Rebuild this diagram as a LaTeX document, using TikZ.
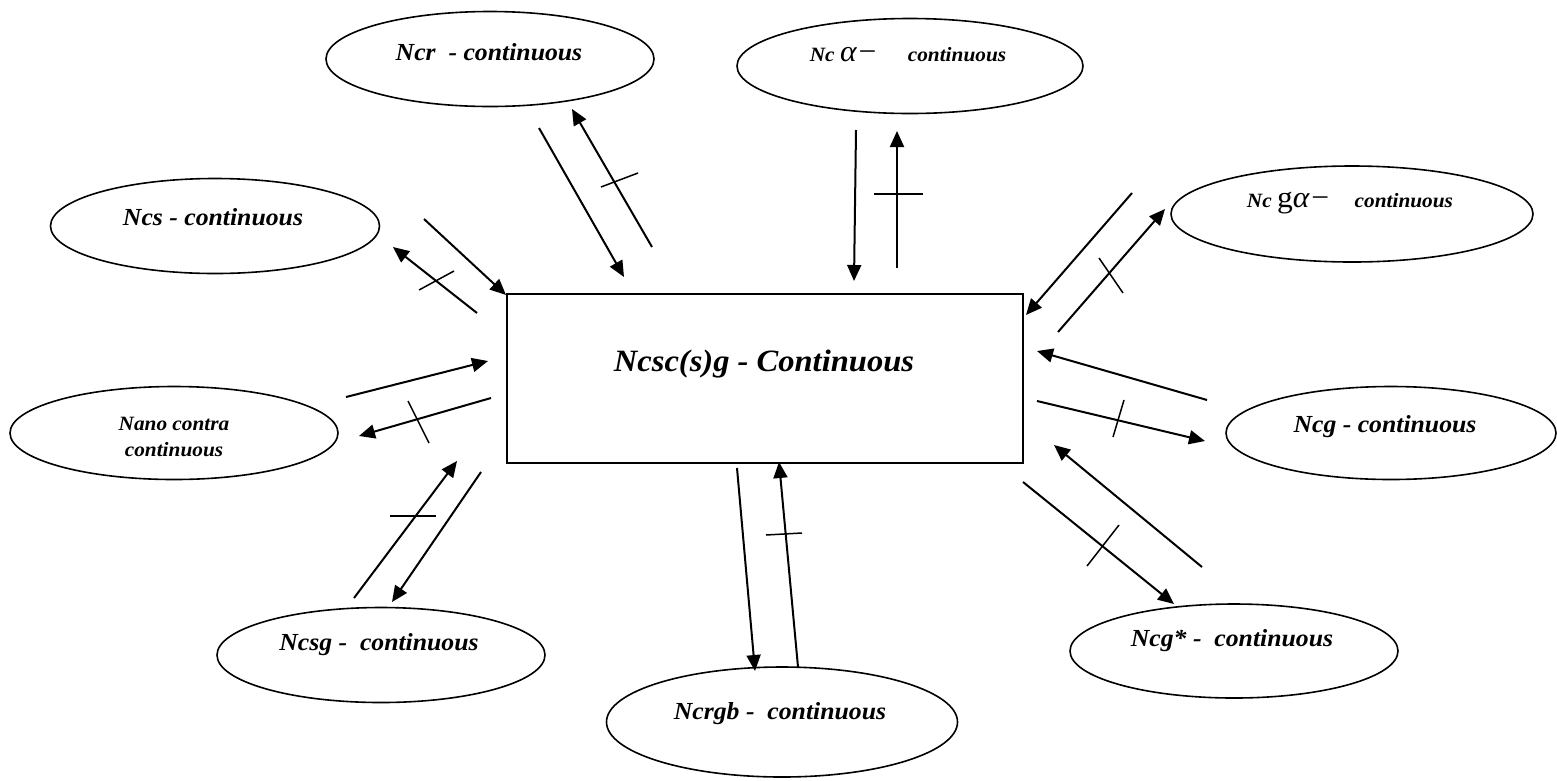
\documentclass[tikz,border=0pt]{standalone}
\usepackage{fontspec}
\setmainfont{Liberation Serif}
\newfontfamily\lblfont[FakeStretch=1.05]{Liberation Serif}
\usetikzlibrary{shapes.geometric,arrows.meta}
\begin{document}
\begin{tikzpicture}[x=1pt,y=-1pt,
  ell/.style={draw, ellipse, line width=1.6pt, inner sep=0pt},
  box/.style={draw, rectangle, line width=1.8pt, inner sep=0pt},
  lab/.style={inner sep=0pt, align=center, font=\lblfont\bfseries\itshape\fontsize{24.5}{27}\selectfont},
  smalllab/.style={inner sep=0pt, align=center, font=\lblfont\bfseries\itshape\fontsize{20.3}{26}\selectfont},
  biglab/.style={inner sep=0pt, font=\lblfont\bfseries\itshape\fontsize{31}{36}\selectfont},
  conn/.style={line width=2pt, -{Triangle[length=16pt,width=14pt]}},
  tick/.style={line width=1.5pt}]
\useasboundingbox (0,0) rectangle (1557,780);

% central box
\node[box, minimum width=516pt, minimum height=169pt] (main) at (765,378.5) {};
\node[biglab] (mainT) at (764,364) {Ncsc(s)g - Continuous};

% ellipses
\node[ell, minimum width=328pt, minimum height=95pt] (ncr) at (490,59) {};
\node[lab] (ncrT) at (489,52) {Ncr\ \ - continuous};

\node[ell, minimum width=346pt, minimum height=95pt] (nca) at (910,66) {};
\node[smalllab] (ncaT) at (908,55) {Nc {\mdseries\fontsize{30}{34}\selectfont α−}\hspace{30pt}continuous};

\node[ell, minimum width=329pt, minimum height=95pt] (ncs) at (215,226) {};
\node[lab] (ncsT) at (213,217) {Ncs - continuous};

\node[ell, minimum width=362pt, minimum height=96pt] (ncga) at (1352,214) {};
\node[smalllab] (ncgaT) at (1350,203) {Nc {\mdseries\fontsize{30}{34}\selectfont\upshape g\itshape α−}\hspace{24pt}continuous};

\node[ell, minimum width=328pt, minimum height=93pt] (nano) at (174,433) {};
\node[smalllab] (nanoT) at (174,437) {Nano contra\\continuous};

\node[ell, minimum width=330pt, minimum height=93pt] (ncg) at (1391,433) {};
\node[lab] (ncgT) at (1385,427) {Ncg - continuous};

\node[ell, minimum width=328pt, minimum height=95pt] (ncsg) at (381,655) {};
\node[lab] (ncsgT) at (379,645) {Ncsg -\ \ continuous};

\node[ell, minimum width=351pt, minimum height=110pt] (ncrgb) at (782,722) {};
\node[lab] (ncrgbT) at (780,714) {Ncrgb -\ \ continuous};

\node[ell, minimum width=328pt, minimum height=94pt] (ncgs) at (1234,651) {};
\node[lab] (ncgsT) at (1232,641) {Ncg* -\ \ continuous};

% connector end points
\coordinate (r1a) at (539,128); \coordinate (r1b) at (624,277);
\coordinate (r2a) at (652,247); \coordinate (r2b) at (572,109);
\coordinate (r3a) at (601,187); \coordinate (r3b) at (638,173);

\coordinate (s1a) at (424,219); \coordinate (s1b) at (506,295);
\coordinate (s2a) at (477,313); \coordinate (s2b) at (393,247);
\coordinate (s3a) at (419,290); \coordinate (s3b) at (454,271);

\coordinate (a1a) at (856,130); \coordinate (a1b) at (854,281);
\coordinate (a2a) at (897,268); \coordinate (a2b) at (897,131);
\coordinate (a3a) at (874,194); \coordinate (a3b) at (923,194);

\coordinate (ga1a) at (1132,193); \coordinate (ga1b) at (1026,315);
\coordinate (ga2a) at (1058,332); \coordinate (ga2b) at (1165,209);
\coordinate (ga3a) at (1099,258); \coordinate (ga3b) at (1123,293);

\coordinate (g1a) at (1207,400); \coordinate (g1b) at (1037,351);
\coordinate (g2a) at (1037,401); \coordinate (g2b) at (1205,441);
\coordinate (g3a) at (1113,437); \coordinate (g3b) at (1124,400);

\coordinate (n1a) at (346,397); \coordinate (n1b) at (488,361);
\coordinate (n2a) at (491,398); \coordinate (n2b) at (359,436);
\coordinate (n3a) at (408,401); \coordinate (n3b) at (429,443);

\coordinate (sg1a) at (354,598); \coordinate (sg1b) at (457,461);
\coordinate (sg2a) at (481,472); \coordinate (sg2b) at (392,602);
\coordinate (sg3a) at (390,516); \coordinate (sg3b) at (436,516);

\coordinate (rb1a) at (737,468); \coordinate (rb1b) at (755,671);
\coordinate (rb2a) at (798,667); \coordinate (rb2b) at (779,462);
\coordinate (rb3a) at (766,535); \coordinate (rb3b) at (802,533);

\coordinate (gs1a) at (1202,567); \coordinate (gs1b) at (1054,445);
\coordinate (gs2a) at (1023,482); \coordinate (gs2b) at (1174,604);
\coordinate (gs3a) at (1087,566); \coordinate (gs3b) at (1119,525);

% connectors
\draw[conn] (r1a) -- (r1b);  \draw[conn] (r2a) -- (r2b);  \draw[tick] (r3a) -- (r3b);
\draw[conn] (s1a) -- (s1b);  \draw[conn] (s2a) -- (s2b);  \draw[tick] (s3a) -- (s3b);
\draw[conn] (a1a) -- (a1b);  \draw[conn] (a2a) -- (a2b);  \draw[tick] (a3a) -- (a3b);
\draw[conn] (ga1a) -- (ga1b); \draw[conn] (ga2a) -- (ga2b); \draw[tick] (ga3a) -- (ga3b);
\draw[conn] (g1a) -- (g1b);  \draw[conn] (g2a) -- (g2b);  \draw[tick] (g3a) -- (g3b);
\draw[conn] (n1a) -- (n1b);  \draw[conn] (n2a) -- (n2b);  \draw[tick] (n3a) -- (n3b);
\draw[conn] (sg1a) -- (sg1b); \draw[conn] (sg2a) -- (sg2b); \draw[tick] (sg3a) -- (sg3b);
\draw[conn] (rb1a) -- (rb1b); \draw[conn] (rb2a) -- (rb2b); \draw[tick] (rb3a) -- (rb3b);
\draw[conn] (gs1a) -- (gs1b); \draw[conn] (gs2a) -- (gs2b); \draw[tick] (gs3a) -- (gs3b);
\end{tikzpicture}
\end{document}
